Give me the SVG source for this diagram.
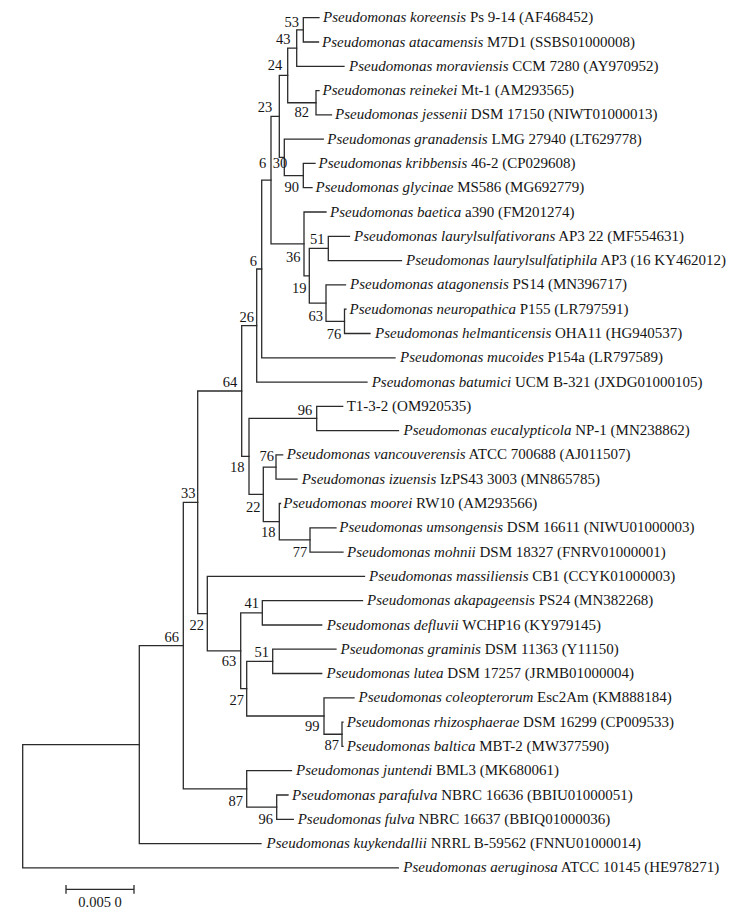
<svg xmlns="http://www.w3.org/2000/svg" width="751" height="921" viewBox="0 0 751 921">
<style>
.br{fill:none;stroke:#2b2b2b;stroke-width:1.3;stroke-linecap:square}
.lf{font-family:"Liberation Serif","Times New Roman",serif;font-size:15px;fill:#151515}
.bs{font-family:"Liberation Serif","Times New Roman",serif;font-size:14.5px;fill:#151515;text-anchor:middle}
.i{font-style:italic}
</style>
<rect width="751" height="921" fill="#fff"/>
<g id="connectors" class="br">
<path d="M303.3,17.7V42M303.3,17.7H319M303.3,42H318.5"/>
<path d="M296.7,29.85V66.3M296.7,29.85H303.3M296.7,66.3H344"/>
<path d="M316,90.6V114.9M316,90.6H319M316,114.9H331.5"/>
<path d="M287.7,48.1V102.75M287.7,48.1H296.7M287.7,102.75H316"/>
<path d="M303.3,163.4V187.7M303.3,163.4H315M303.3,187.7H312"/>
<path d="M284.3,139.2V175.55M284.3,139.2H323.3M284.3,175.55H303.3"/>
<path d="M279.3,75.4V157.4M279.3,75.4H287.7M279.3,157.4H284.3"/>
<path d="M328.3,236.3V260.6M328.3,236.3H349.5M328.3,260.6H401.5"/>
<path d="M344.5,309.2V333.5M344.5,309.2H346M344.5,333.5H370"/>
<path d="M326,284.9V321.35M326,284.9H345.5M326,321.35H344.5"/>
<path d="M309.3,248.45V303.1M309.3,248.45H328.3M309.3,303.1H326"/>
<path d="M304,212V275.8M304,212H326M304,275.8H309.3"/>
<path d="M271,116.4V243.9M271,116.4H279.3M271,243.9H304"/>
<path d="M261.7,180.15V357.8M261.7,180.15H271M261.7,357.8H395"/>
<path d="M256.7,269V382.1M256.7,269H261.7M256.7,382.1H367"/>
<path d="M316.7,406.3V430.6M316.7,406.3H342.7M316.7,430.6H398.5"/>
<path d="M276,454.9V479.2M276,454.9H282.7M276,479.2H297"/>
<path d="M310,527.8V552.1M310,527.8H336M310,552.1H343"/>
<path d="M279.3,503.5V539.95M279.3,503.5H280.5M279.3,539.95H310"/>
<path d="M263.3,467.05V521.7M263.3,467.05H276M263.3,521.7H279.3"/>
<path d="M249,418.45V494.4M249,418.45H316.7M249,494.4H263.3"/>
<path d="M241.7,325.55V456.4M241.7,325.55H256.7M241.7,456.4H249"/>
<path d="M262.3,600.7V625M262.3,600.7H362.5M262.3,625H321.7"/>
<path d="M272.7,649.2V673.5M272.7,649.2H336M272.7,673.5H321.7"/>
<path d="M342,722.1V746.4M342,722.1H343M342,746.4H343"/>
<path d="M324,697.8V734.25M324,697.8H354M324,734.25H342"/>
<path d="M246.7,661.35V716M246.7,661.35H272.7M246.7,716H324"/>
<path d="M240.7,612.85V688.7M240.7,612.85H262.3M240.7,688.7H246.7"/>
<path d="M207.3,576.4V650.8M207.3,576.4H364.5M207.3,650.8H240.7"/>
<path d="M197.7,391V613.6M197.7,391H241.7M197.7,613.6H207.3"/>
<path d="M276.7,795V819.3M276.7,795H288M276.7,819.3H293.3"/>
<path d="M246.7,770.7V807.15M246.7,770.7H291.5M246.7,807.15H276.7"/>
<path d="M183.3,502.3V788.9M183.3,502.3H197.7M183.3,788.9H246.7"/>
<path d="M139.3,645.6V843.6M139.3,645.6H183.3M139.3,843.6H261"/>
<path d="M22.7,744.6V867.9M22.7,744.6H139.3M22.7,867.9H398.3"/>
</g>
<g id="scale-bar">
<path class="br" d="M66,889.3H134M66,885.7V893M134,885.7V893"/>
<text class="bs" x="100" y="907">0.005 0</text>
</g>
<g id="leaves" class="lf">
<g id="leaf-koreensis"><text x="323" y="22.2"><tspan class="i">Pseudomonas koreensis</tspan> Ps 9-14 (AF468452)</text></g>
<g id="leaf-atacamensis"><text x="322" y="46.5"><tspan class="i">Pseudomonas atacamensis</tspan> M7D1 (SSBS01000008)</text></g>
<g id="leaf-moraviensis"><text x="349" y="70.8"><tspan class="i">Pseudomonas moraviensis</tspan> CCM 7280 (AY970952)</text></g>
<g id="leaf-reinekei"><text x="322.5" y="95.1"><tspan class="i">Pseudomonas reinekei</tspan> Mt-1 (AM293565)</text></g>
<g id="leaf-jessenii"><text x="335" y="119.4"><tspan class="i">Pseudomonas jessenii</tspan> DSM 17150 (NIWT01000013)</text></g>
<g id="leaf-granadensis"><text x="327.3" y="143.7"><tspan class="i">Pseudomonas granadensis</tspan> LMG 27940 (LT629778)</text></g>
<g id="leaf-kribbensis"><text x="318.5" y="167.9"><tspan class="i">Pseudomonas kribbensis</tspan> 46-2 (CP029608)</text></g>
<g id="leaf-glycinae"><text x="315.5" y="192.2"><tspan class="i">Pseudomonas glycinae</tspan> MS586 (MG692779)</text></g>
<g id="leaf-baetica"><text x="330" y="216.5"><tspan class="i">Pseudomonas baetica</tspan> a390 (FM201274)</text></g>
<g id="leaf-laurylsulfativorans"><text x="354" y="240.8"><tspan class="i">Pseudomonas laurylsulfativorans</tspan> AP3 22 (MF554631)</text></g>
<g id="leaf-laurylsulfatiphila"><text x="406" y="265.1"><tspan class="i">Pseudomonas laurylsulfatiphila</tspan> AP3 (16 KY462012)</text></g>
<g id="leaf-atagonensis"><text x="350" y="289.4"><tspan class="i">Pseudomonas atagonensis</tspan> PS14 (MN396717)</text></g>
<g id="leaf-neuropathica"><text x="349.5" y="313.7"><tspan class="i">Pseudomonas neuropathica</tspan> P155 (LR797591)</text></g>
<g id="leaf-helmanticensis"><text x="375" y="338"><tspan class="i">Pseudomonas helmanticensis</tspan> OHA11 (HG940537)</text></g>
<g id="leaf-mucoides"><text x="400" y="362.3"><tspan class="i">Pseudomonas mucoides</tspan> P154a (LR797589)</text></g>
<g id="leaf-batumici"><text x="371.7" y="386.6"><tspan class="i">Pseudomonas batumici</tspan> UCM B-321 (JXDG01000105)</text></g>
<g id="leaf-T1-3-2"><text x="346.7" y="410.8">T1-3-2 (OM920535)</text></g>
<g id="leaf-eucalypticola"><text x="403.5" y="435.1"><tspan class="i">Pseudomonas eucalypticola</tspan> NP-1 (MN238862)</text></g>
<g id="leaf-vancouverensis"><text x="286.7" y="459.4"><tspan class="i">Pseudomonas vancouverensis</tspan> ATCC 700688 (AJ011507)</text></g>
<g id="leaf-izuensis"><text x="301.7" y="483.7"><tspan class="i">Pseudomonas izuensis</tspan> IzPS43 3003 (MN865785)</text></g>
<g id="leaf-moorei"><text x="283.3" y="508"><tspan class="i">Pseudomonas moorei</tspan> RW10 (AM293566)</text></g>
<g id="leaf-umsongensis"><text x="339.3" y="532.3"><tspan class="i">Pseudomonas umsongensis</tspan> DSM 16611 (NIWU01000003)</text></g>
<g id="leaf-mohnii"><text x="347" y="556.6"><tspan class="i">Pseudomonas mohnii</tspan> DSM 18327 (FNRV01000001)</text></g>
<g id="leaf-massiliensis"><text x="369" y="580.9"><tspan class="i">Pseudomonas massiliensis</tspan> CB1 (CCYK01000003)</text></g>
<g id="leaf-akapageensis"><text x="367" y="605.2"><tspan class="i">Pseudomonas akapageensis</tspan> PS24 (MN382268)</text></g>
<g id="leaf-defluvii"><text x="326.7" y="629.5"><tspan class="i">Pseudomonas defluvii</tspan> WCHP16 (KY979145)</text></g>
<g id="leaf-graminis"><text x="340.5" y="653.7"><tspan class="i">Pseudomonas graminis</tspan> DSM 11363 (Y11150)</text></g>
<g id="leaf-lutea"><text x="326.5" y="678"><tspan class="i">Pseudomonas lutea</tspan> DSM 17257 (JRMB01000004)</text></g>
<g id="leaf-coleopterorum"><text x="358.5" y="702.3"><tspan class="i">Pseudomonas coleopterorum</tspan> Esc2Am (KM888184)</text></g>
<g id="leaf-rhizosphaerae"><text x="346.7" y="726.6"><tspan class="i">Pseudomonas rhizosphaerae</tspan> DSM 16299 (CP009533)</text></g>
<g id="leaf-baltica"><text x="346.7" y="750.9"><tspan class="i">Pseudomonas baltica</tspan> MBT-2 (MW377590)</text></g>
<g id="leaf-juntendi"><text x="296" y="775.2"><tspan class="i">Pseudomonas juntendi</tspan> BML3 (MK680061)</text></g>
<g id="leaf-parafulva"><text x="292" y="799.5"><tspan class="i">Pseudomonas parafulva</tspan> NBRC 16636 (BBIU01000051)</text></g>
<g id="leaf-fulva"><text x="297.7" y="823.8"><tspan class="i">Pseudomonas fulva</tspan> NBRC 16637 (BBIQ01000036)</text></g>
<g id="leaf-kuykendallii"><text x="266.5" y="848.1"><tspan class="i">Pseudomonas kuykendallii</tspan> NRRL B-59562 (FNNU01000014)</text></g>
<g id="leaf-aeruginosa"><text x="403.3" y="872.4"><tspan class="i">Pseudomonas aeruginosa</tspan> ATCC 10145 (HE978271)</text></g>
</g>
<g id="bootstrap" class="bs">
<g id="node-53"><text x="291.7" y="26.7">53</text></g>
<g id="node-43"><text x="283.3" y="44.3">43</text></g>
<g id="node-24"><text x="275" y="70">24</text></g>
<g id="node-23"><text x="265" y="111.7">23</text></g>
<g id="node-82"><text x="301.7" y="116.7">82</text></g>
<g id="node-30"><text x="280" y="168.3">30</text></g>
<g id="node-6a"><text x="262.7" y="167.7">6</text></g>
<g id="node-90"><text x="291.7" y="191.7">90</text></g>
<g id="node-51a"><text x="317.3" y="244.3">51</text></g>
<g id="node-36"><text x="293.3" y="261.7">36</text></g>
<g id="node-19"><text x="299.3" y="293.3">19</text></g>
<g id="node-63a"><text x="315.7" y="321">63</text></g>
<g id="node-76a"><text x="334" y="339">76</text></g>
<g id="node-6b"><text x="253.3" y="266">6</text></g>
<g id="node-26"><text x="246.7" y="321.7">26</text></g>
<g id="node-64"><text x="230" y="386.7">64</text></g>
<g id="node-96a"><text x="305" y="415">96</text></g>
<g id="node-76b"><text x="266.7" y="461">76</text></g>
<g id="node-18a"><text x="237.3" y="471.7">18</text></g>
<g id="node-33"><text x="188.3" y="498.3">33</text></g>
<g id="node-22a"><text x="253.3" y="511.7">22</text></g>
<g id="node-18b"><text x="268.3" y="536.7">18</text></g>
<g id="node-77"><text x="300" y="556.7">77</text></g>
<g id="node-41"><text x="251.7" y="608.3">41</text></g>
<g id="node-22b"><text x="196.7" y="630">22</text></g>
<g id="node-66"><text x="171.7" y="641.7">66</text></g>
<g id="node-51b"><text x="261.7" y="656.7">51</text></g>
<g id="node-63b"><text x="229" y="665.7">63</text></g>
<g id="node-27"><text x="236.7" y="705">27</text></g>
<g id="node-99"><text x="312.3" y="731">99</text></g>
<g id="node-87a"><text x="331.7" y="750">87</text></g>
<g id="node-87b"><text x="235.7" y="806">87</text></g>
<g id="node-96b"><text x="265.7" y="824">96</text></g>
</g>
</svg>
